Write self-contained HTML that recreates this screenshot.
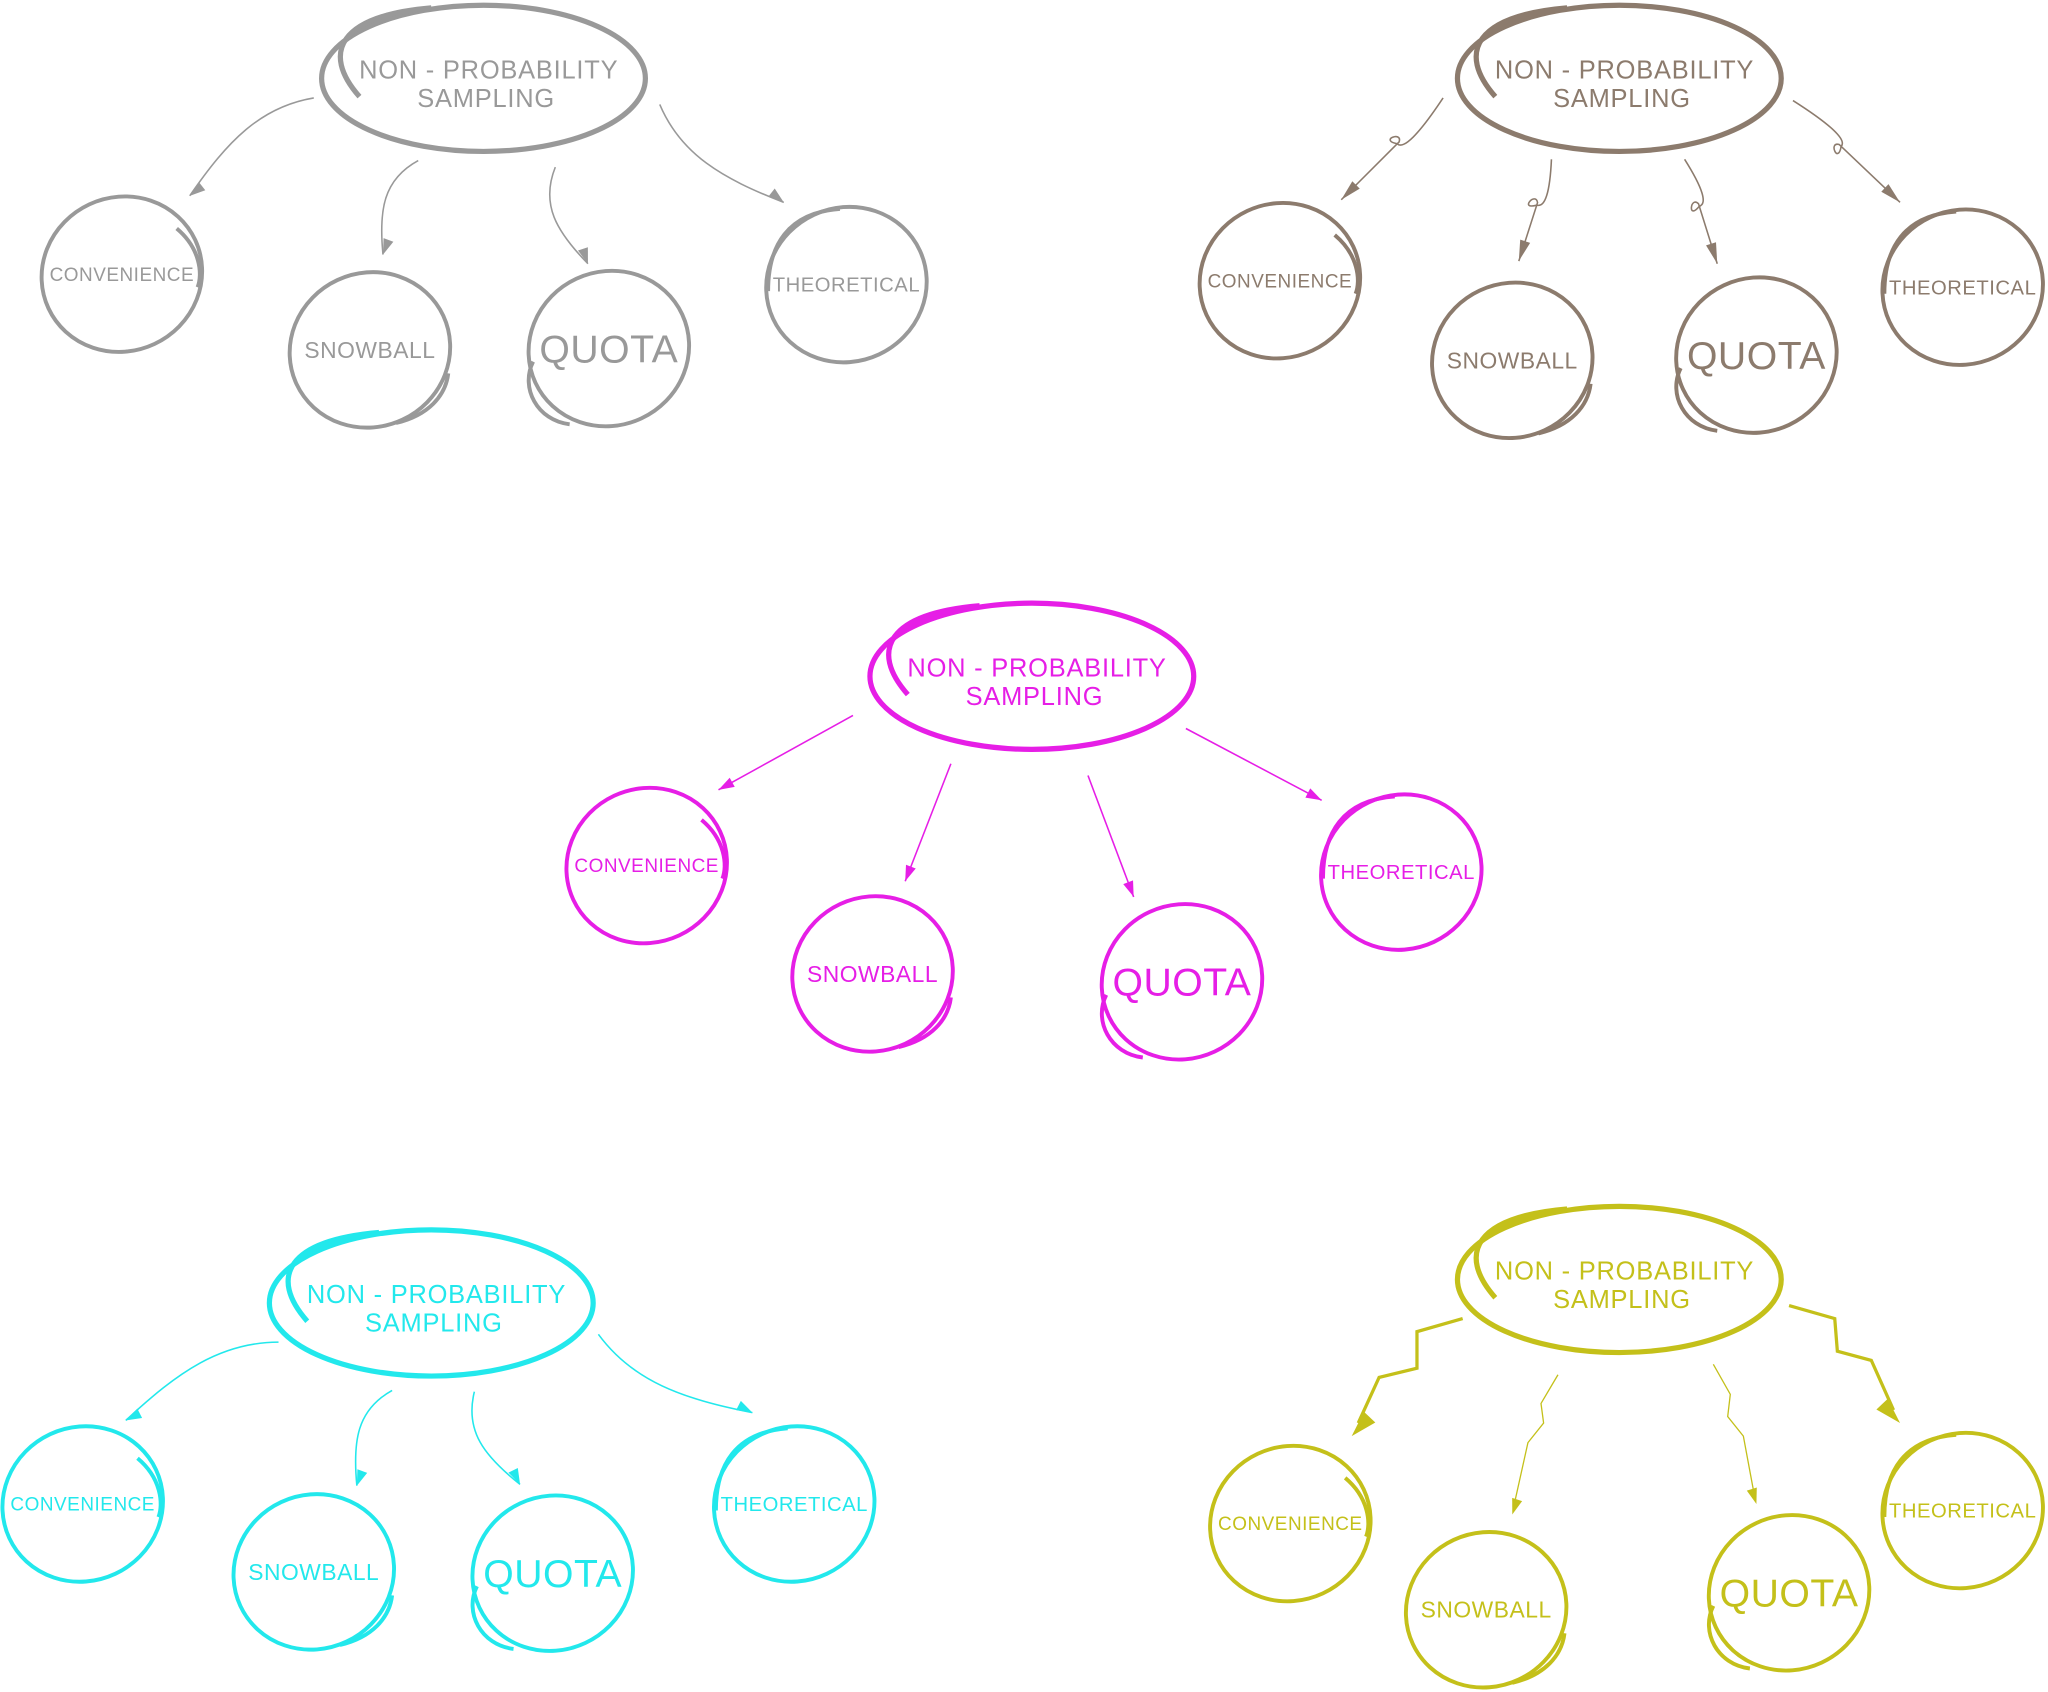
<!DOCTYPE html>
<html><head><meta charset="utf-8"><style>html,body{margin:0;padding:0;background:#fff}svg{display:block}</style></head>
<body>
<svg id="s" xmlns="http://www.w3.org/2000/svg" width="2048" height="1692" viewBox="0 0 1568 1296" font-family="Liberation Sans, sans-serif"></svg>
<script>
const S=document.getElementById('s');let h='';
const groups=[
 {c:'#999999',m:[370,60],ch:[[93,210],[283,268],[466,267],[648,218]],a:[[240,75,145,150],[320,123,293,195],[425,128,450,202],[505,80,600,155]],st:'curve'},
 {c:'#8c7b6d',m:[1240,60],ch:[[980,215],[1158,276],[1345,272],[1503,220]],a:[[1105,75,1027,153],[1188,122,1163,200],[1290,122,1315,202],[1373,77,1455,155]],st:'loop'},
 {c:'#e61ee6',m:[790,518],ch:[[495,663],[668,746],[905,752],[1073,668]],a:[[653,548,550,605],[728,585,693,675],[833,594,868,687],[908,558,1012,613]],st:'line'},
 {c:'#22e8ec',m:[330,998],ch:[[63,1152],[240,1204],[423,1205],[608,1152]],a:[[213,1028,96,1088],[300,1065,273,1138],[363,1066,398,1137],[458,1022,576,1082]],st:'curve'},
 {c:'#c4c01a',m:[1240,980],ch:[[988,1167],[1138,1233],[1370,1220],[1503,1157]],a:[[1120,1010,1035,1100],[1193,1053,1158,1160],[1312,1045,1345,1152],[1370,1000,1455,1090]],st:'zig'}
];
const zigPaths=[
 ['M1120 1010 L1085 1020 L1085 1048 L1056 1055 L1040 1090',2.5],
 ['M1193 1053 L1180 1075 L1182 1090 L1170 1105 L1160 1150',1],
 ['M1312 1045 L1325 1068 L1323 1085 L1335 1100 L1343 1143',1],
 ['M1370 1000 L1405 1010 L1407 1035 L1433 1042 L1450 1080',2.5]
];
const labels=[['CONVENIENCE',14.5],['SNOWBALL',17.5],['QUOTA',30],['THEORETICAL',15.5]];
groups.forEach(g=>{
 const c=g.c,[mx,my]=g.m;
 h+=`<ellipse cx="${mx}" cy="${my}" rx="124" ry="56" fill="none" stroke="${c}" stroke-width="4"/>`;
 h+=`<path d="M${mx-95} ${my+14} C${mx-125} ${my-20} ${mx-110} ${my-48} ${mx-40} ${my-54}" fill="none" stroke="${c}" stroke-width="4"/>`;
 h+=`<text x="${mx+4}" y="${my}" font-size="19.5" fill="${c}" text-anchor="middle" letter-spacing="0.6">NON - PROBABILITY</text>`;
 h+=`<text x="${mx+2}" y="${my+22}" font-size="19.5" fill="${c}" text-anchor="middle" letter-spacing="0.6">SAMPLING</text>`;
 g.ch.forEach(([x,y],i)=>{
  h+=`<ellipse cx="${x}" cy="${y}" rx="62" ry="59" fill="none" stroke="${c}" stroke-width="3" transform="rotate(-25 ${x} ${y})"/>`;
  if(i==0) h+=`<path d="M${x+42} ${y-35} C${x+60} ${y-20} ${x+62} ${y} ${x+58} ${y+10}" fill="none" stroke="${c}" stroke-width="3"/>`;
  if(i==1) h+=`<path d="M${x+20} ${y+56} C${x+45} ${y+50} ${x+58} ${y+35} ${x+60} ${y+18}" fill="none" stroke="${c}" stroke-width="3"/>`;
  if(i==2) h+=`<path d="M${x-58} ${y+10} C${x-68} ${y+30} ${x-55} ${y+55} ${x-30} ${y+58}" fill="none" stroke="${c}" stroke-width="3"/>`;
  if(i==3) h+=`<path d="M${x-60} ${y+5} C${x-60} ${y-30} ${x-45} ${y-55} ${x-5} ${y-58}" fill="none" stroke="${c}" stroke-width="3"/>`;
  h+=`<text x="${x}" y="${y+labels[i][1]*0.35}" font-size="${labels[i][1]}" fill="${c}" text-anchor="middle" letter-spacing="0.4">${labels[i][0]}</text>`;
 });
 g.a.forEach(([x1,y1,x2,y2],k)=>{
  const dx=x2-x1,dy=y2-y1,L=Math.hypot(dx,dy),ux=dx/L,uy=dy/L,px=-uy,py=ux;
  let d,sw=1.2;
  if(g.st=='line') d=`M${x1} ${y1} L${x2} ${y2}`;
  else if(g.st=='curve') d=`M${x1} ${y1} C${x1+dx*0.3+px*20} ${y1+dy*0.3+py*20} ${x1+dx*0.6+px*15} ${y1+dy*0.6+py*15} ${x2} ${y2}`;
  else if(g.st=='loop'){const lx=x1+dx*0.45,ly=y1+dy*0.45;d=`M${x1} ${y1} Q${lx-px*10} ${ly-py*10} ${lx} ${ly} c${px*12+ux*8} ${py*12+uy*8} ${px*4-ux*10} ${py*4-uy*10} ${-ux*2} ${-uy*2} L${x2} ${y2}`;}
  else {d=zigPaths[k][0];sw=zigPaths[k][1];}
  h+=`<path d="${d}" fill="none" stroke="${c}" stroke-width="${sw}"/>`;
  const big=(g.st=='zig'&&(k==0||k==3));
  const al=big?20:(g.st=='loop'?16:12),aw=big?6:4;
  h+=`<polygon points="${x2},${y2} ${x2-ux*al+px*aw},${y2-uy*al+py*aw} ${x2-ux*al-px*aw},${y2-uy*al-py*aw}" fill="${c}"/>`;
 });
});
S.innerHTML=h;
</script>
</body></html>
